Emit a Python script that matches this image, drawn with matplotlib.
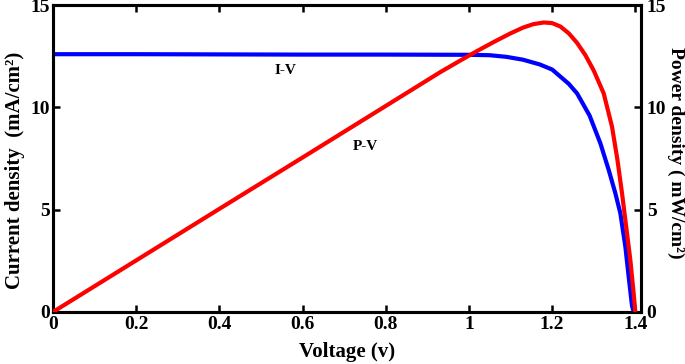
import matplotlib

matplotlib.use("Agg")
import matplotlib.pyplot as plt

plt.rcParams["font.family"] = ["Liberation Serif", "DejaVu Serif"]
plt.rcParams["font.weight"] = "bold"

# I-V curve (current density, mA/cm^2)
iv_voltage = [0.0, 0.2, 0.4, 0.6, 0.8, 1.0, 1.05, 1.09, 1.13, 1.17, 1.20,
              1.22, 1.24, 1.26, 1.29, 1.316, 1.336, 1.352, 1.364, 1.376,
              1.384, 1.392, 1.396]
iv_current = [12.6, 12.6, 12.59, 12.58, 12.58, 12.57, 12.55, 12.47, 12.33,
              12.1, 11.85, 11.5, 11.15, 10.68, 9.6, 8.24, 6.94, 5.8, 4.82,
              3.19, 1.72, 0.3, 0.0]

# P-V curve (power density, mW/cm^2)
pv_voltage = [0.0, 0.2, 0.4, 0.6, 0.8, 0.93, 0.98, 1.02, 1.06, 1.10, 1.13,
              1.155, 1.18, 1.20, 1.22, 1.24, 1.26, 1.28, 1.30, 1.324, 1.344,
              1.357, 1.368, 1.378, 1.388, 1.396, 1.40]
pv_power = [0.0, 2.52, 5.04, 7.55, 10.07, 11.71, 12.3, 12.76, 13.2, 13.62,
            13.9, 14.07, 14.15, 14.12, 13.95, 13.62, 13.15, 12.55, 11.8,
            10.68, 9.05, 7.43, 5.8, 4.17, 2.54, 0.9, 0.0]

x_ticks = [0, 0.2, 0.4, 0.6, 0.8, 1.0, 1.2, 1.4]
x_tick_labels = ["0", "0.2", "0.4", "0.6", "0.8", "1", "1.2", "1.4"]
y_ticks = [0, 5, 10, 15]

fig = plt.figure(figsize=(6.85, 3.64), dpi=100)
ax = fig.add_axes([0.0774, 0.143, 0.8586, 0.843])
ax2 = ax.twinx()

ax.plot(iv_voltage, iv_current, color="#0000FF", linewidth=3,
        solid_capstyle="butt", solid_joinstyle="round", zorder=3)
ax2.plot(pv_voltage, pv_power, color="#FF0000", linewidth=3,
         solid_capstyle="butt", solid_joinstyle="round", zorder=3)

ax.set_xlim(0, 1.414)
ax.set_ylim(0, 15)
ax2.set_ylim(0, 15)

ax.set_xticks(x_ticks)
ax.set_xticklabels(x_tick_labels)
ax.set_yticks(y_ticks)
ax2.set_yticks(y_ticks)

for a in (ax, ax2):
    for s in a.spines.values():
        s.set_linewidth(2.2)
    a.tick_params(direction="in", length=5, width=1.8, labelsize=14)
ax.tick_params(axis="x", top=True, pad=3)
ax.tick_params(axis="y", pad=2)
ax2.tick_params(axis="y", pad=4)

ax.set_xlabel("Voltage (v)", fontsize=15, fontweight="bold", va="center")
ax.xaxis.set_label_coords(0.5, -0.13)
ax.set_ylabel("Current density  (mA/cm²)", fontsize=15, fontweight="bold",
              va="center")
ax.yaxis.set_label_coords(-0.064, 0.46)
ax2.set_ylabel("Power density ( mW/cm²)", fontsize=14, fontweight="bold",
               rotation=270, va="center")
ax2.yaxis.set_label_coords(1.058, 0.52)

ax.text(0.56, 11.8, "I-V", fontsize=11, fontweight="bold", ha="center",
        va="center")
ax.text(0.75, 8.1, "P-V", fontsize=11, fontweight="bold", ha="center",
        va="center")

fig.savefig("out.png", dpi=100)
